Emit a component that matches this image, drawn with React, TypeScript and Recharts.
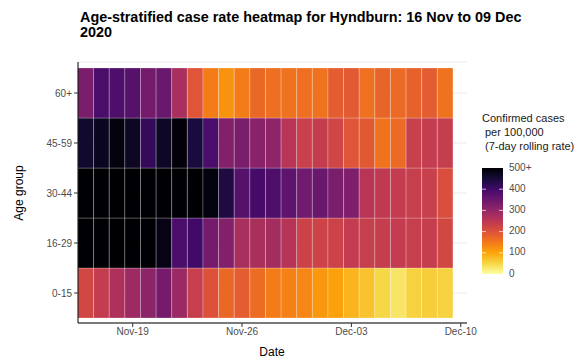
import React from "react";
import { ScatterChart, Scatter, XAxis, YAxis, CartesianGrid, ReferenceArea } from "recharts";

const FONT = "'Liberation Sans', Arial, sans-serif";

// 16 Nov -> 09 Dec 2020, one column per day
const DATES = [
  "16 Nov", "17 Nov", "18 Nov", "19 Nov", "20 Nov", "21 Nov", "22 Nov", "23 Nov",
  "24 Nov", "25 Nov", "26 Nov", "27 Nov", "28 Nov", "29 Nov", "30 Nov", "01 Dec",
  "02 Dec", "03 Dec", "04 Dec", "05 Dec", "06 Dec", "07 Dec", "08 Dec", "09 Dec",
];
const AGE_GROUPS = ["0-15", "16-29", "30-44", "45-59", "60+"];

// 7-day rolling rate per 100,000 (values over 500 drawn as 500+)
const RATE_0_15 = [220, 240, 268, 288, 308, 335, 290, 235, 200, 170, 185, 165, 145, 140, 135, 115, 105, 85, 70, 50, 32, 55, 60, 55];
const RATE_16_29 = [540, 570, 590, 560, 530, 485, 390, 400, 335, 320, 275, 272, 280, 258, 228, 226, 228, 240, 235, 236, 240, 235, 236, 218];
const RATE_30_44 = [560, 580, 600, 590, 570, 600, 610, 560, 490, 440, 375, 395, 385, 365, 340, 350, 330, 325, 255, 245, 240, 235, 232, 205];
const RATE_45_59 = [460, 475, 490, 470, 415, 468, 495, 445, 390, 320, 330, 312, 305, 255, 232, 238, 222, 195, 190, 158, 168, 232, 240, 236];
const RATE_60_PLUS = [330, 390, 385, 375, 335, 350, 275, 195, 145, 120, 145, 170, 162, 158, 162, 158, 185, 188, 160, 175, 168, 178, 185, 158];

const X_TICKS = [3, 10, 17, 24];
const X_TICK_LABELS = ["Nov-19", "Nov-26", "Dec-03", "Dec-10"];
const LEGEND_TICKS = [0, 100, 200, 300, 400, 500];
const LEGEND_LABELS = ["0", "100", "200", "300", "400", "500+"];

const INFERNO = ["#000004", "#160b39", "#420a68", "#6a176e", "#932667", "#bc3754", "#dd513a", "#f37819", "#fca50a", "#f6d746", "#fcffa4"];

const hexToRgb = (h: string) => [1, 3, 5].map((i) => parseInt(h.slice(i, i + 2), 16));

// reversed inferno: 0 -> pale yellow, 500+ -> black
const rateColor = (v: number) => {
  const t = (1 - Math.min(v, 500) / 500) * (INFERNO.length - 1);
  const i = Math.min(Math.floor(t), INFERNO.length - 2);
  const f = t - i;
  const a = hexToRgb(INFERNO[i]);
  const b = hexToRgb(INFERNO[i + 1]);
  const c = a.map((x, k) => Math.round(x + (b[k] - x) * f));
  return `rgb(${c[0]},${c[1]},${c[2]})`;
};

const ROWS = [RATE_0_15, RATE_16_29, RATE_30_44, RATE_45_59, RATE_60_PLUS];
const cells = ROWS.flatMap((rates, row) =>
  rates.map((rate, day) => ({ day, row, rate, date: DATES[day], age: AGE_GROUPS[row] }))
);

const tickStyle = { fontSize: 10, fill: "#4d4d4d", fontFamily: FONT };

export default function App() {
  return (
    <div style={{ position: "absolute", left: 0, top: 0, width: 587, height: 362, background: "#fff", fontFamily: FONT }}>
      <ScatterChart width={587} height={362} margin={{ top: 62, right: 120, bottom: 0, left: 0 }}>
        <CartesianGrid vertical={false} stroke="#ebebeb" strokeWidth={1} />
        <XAxis
          type="number"
          dataKey="day"
          domain={[-0.5, 24.4]}
          ticks={X_TICKS}
          interval={0}
          tickFormatter={(d) => X_TICK_LABELS[X_TICKS.indexOf(d)]}
          height={39}
          tickSize={4}
          tickMargin={1}
          tick={tickStyle}
          axisLine={{ stroke: "#000", strokeWidth: 1 }}
          tickLine={{ stroke: "#333" }}
          allowDataOverflow
        />
        <YAxis
          type="number"
          dataKey="row"
          domain={[-0.6, 4.62]}
          ticks={[0, 1, 2, 3, 4]}
          interval={0}
          tickFormatter={(r) => AGE_GROUPS[r]}
          width={78}
          tickSize={4}
          tickMargin={2}
          tick={tickStyle}
          axisLine={{ stroke: "#000", strokeWidth: 1 }}
          tickLine={{ stroke: "#333" }}
          allowDataOverflow
        />
        {cells.map((c) => (
          <ReferenceArea
            key={`${c.row}-${c.day}`}
            x1={c.day - 0.5}
            x2={c.day + 0.5}
            y1={c.row - 0.5}
            y2={c.row + 0.5}
            fill={rateColor(c.rate)}
            fillOpacity={1}
            stroke="#ffffff"
            strokeOpacity={0.3}
            strokeWidth={0.8}
          />
        ))}
        <Scatter data={cells} isAnimationActive={false} shape={() => <g />} />
      </ScatterChart>

      <svg width={587} height={362} style={{ position: "absolute", left: 0, top: 0, pointerEvents: "none" }}>
        <defs>
          <linearGradient id="infernoBar" x1="0" y1="0" x2="0" y2="1">
            {INFERNO.map((col, i) => (
              <stop key={i} offset={`${i * 10}%`} stopColor={col} />
            ))}
          </linearGradient>
        </defs>
        <text x={80} y={22} fontSize={14.4} fontWeight="bold" fill="#000" fontFamily={FONT}>
          Age-stratified case rate heatmap for Hyndburn: 16 Nov to 09 Dec
        </text>
        <text x={80} y={37} fontSize={14.4} fontWeight="bold" fill="#000" fontFamily={FONT}>
          2020
        </text>

        <text x={20} y={193} fontSize={12} textAnchor="middle" dominantBaseline="middle" transform="rotate(-90 20 193)" fill="#000" fontFamily={FONT}>
          Age group
        </text>
        <text x={272} y={353} fontSize={12} textAnchor="middle" dominantBaseline="middle" fill="#000" fontFamily={FONT}>
          Date
        </text>

        <text fontSize={11} fill="#1a1a1a" fontFamily={FONT}>
          <tspan x={482} y={122}>Confirmed cases</tspan>
          <tspan x={485} y={136}>per 100,000</tspan>
          <tspan x={485} y={150}>(7-day rolling rate)</tspan>
        </text>
        <rect x={482} y={168} width={21} height={106} fill="url(#infernoBar)" />
        {LEGEND_TICKS.map((v, i) => {
          const y = 274 - (v / 500) * 106;
          return (
            <g key={v}>
              {v > 0 && v < 500 && (
                <>
                  <line x1={482} x2={486} y1={y} y2={y} stroke="#fff" strokeOpacity={0.7} />
                  <line x1={499} x2={503} y1={y} y2={y} stroke="#fff" strokeOpacity={0.7} />
                </>
              )}
              <text x={509} y={y} fontSize={10} fill="#4d4d4d" dominantBaseline="middle" fontFamily={FONT}>
                {LEGEND_LABELS[i]}
              </text>
            </g>
          );
        })}
      </svg>
    </div>
  );
}
